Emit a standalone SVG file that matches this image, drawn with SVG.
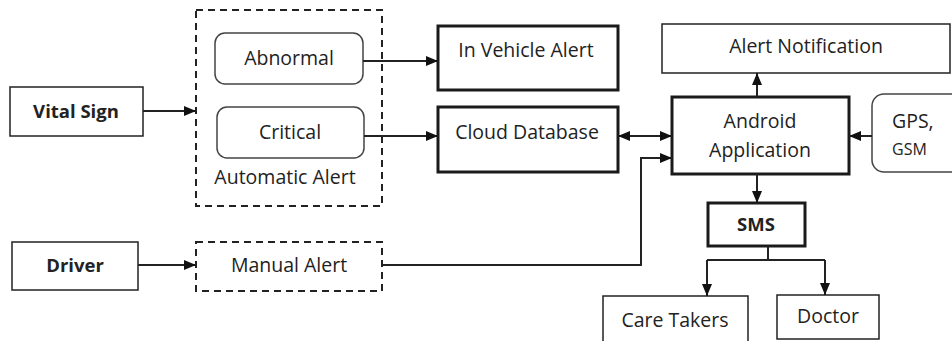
<svg xmlns="http://www.w3.org/2000/svg" width="952" height="341" viewBox="0 0 952 341">
  <defs>
    <style>
      .box { fill: #fff; stroke: #222; stroke-width: 1.5; }
      .thick { fill: #fff; stroke: #1a1a1a; stroke-width: 3; }
      .dash { fill: none; stroke: #222; stroke-width: 2; stroke-dasharray: 7 5; }
      .round { fill: #fff; stroke: #444; stroke-width: 1.5; }
      .lbl { font-family: "Open Sans", "Noto Sans", sans-serif; font-size: 19.5px; fill: #222; text-anchor: middle; }
      .bold { font-weight: bold; }
      .wire { fill: none; stroke: #222; stroke-width: 2; }
    </style>
    <marker id="ah" markerUnits="userSpaceOnUse" markerWidth="12" markerHeight="10" refX="12" refY="5" orient="auto-start-reverse">
      <path d="M0,0 L12,5 L0,10 Z" fill="#111"/>
    </marker>
  </defs>

  <rect width="952" height="341" fill="#fff"/>

  <g id="vital-sign">
    <rect class="box" x="10" y="87" width="133" height="49"/>
    <text class="lbl bold" x="76" y="118" style="font-size:18.5px">Vital Sign</text>
  </g>

  <g id="automatic-alert">
    <rect class="dash" x="196" y="10" width="186" height="196"/>
    <text class="lbl" x="285" y="184">Automatic Alert</text>
  </g>

  <g id="abnormal">
    <rect class="round" x="215" y="33" width="148" height="51" rx="10"/>
    <text class="lbl" x="289" y="65">Abnormal</text>
  </g>

  <g id="critical">
    <rect class="round" x="217" y="107" width="147" height="51" rx="10"/>
    <text class="lbl" x="290" y="139">Critical</text>
  </g>

  <g id="in-vehicle-alert">
    <rect class="thick" x="438" y="26" width="180" height="64"/>
    <text class="lbl" x="526" y="57">In Vehicle Alert</text>
  </g>

  <g id="cloud-database">
    <rect class="thick" x="438" y="107" width="180" height="65"/>
    <text class="lbl" x="527" y="139">Cloud Database</text>
  </g>

  <g id="alert-notification">
    <rect class="box" x="662" y="24" width="288" height="49"/>
    <text class="lbl" x="806" y="53">Alert Notification</text>
  </g>

  <g id="android-application">
    <rect class="thick" x="672" y="97" width="177" height="77"/>
    <text class="lbl" x="760" y="128">Android</text>
    <text class="lbl" x="760" y="157">Application</text>
  </g>

  <g id="gps-gsm">
    <rect class="round" x="872" y="94" width="100" height="78" rx="12"/>
    <text class="lbl" x="892" y="128" style="text-anchor:start">GPS,</text>
    <text class="lbl" x="892" y="155" style="text-anchor:start;font-size:16px">GSM</text>
  </g>

  <g id="sms">
    <rect class="thick" x="708" y="203" width="97" height="43"/>
    <text class="lbl bold" x="756" y="231" style="font-size:18.5px">SMS</text>
  </g>

  <g id="care-takers">
    <rect class="box" x="603" y="296" width="145" height="55"/>
    <text class="lbl" x="675" y="327">Care Takers</text>
  </g>

  <g id="doctor">
    <rect class="box" x="777" y="295" width="102" height="44"/>
    <text class="lbl" x="828" y="323">Doctor</text>
  </g>

  <g id="driver">
    <rect class="box" x="12" y="242" width="126" height="48"/>
    <text class="lbl bold" x="75" y="272" style="font-size:18.5px">Driver</text>
  </g>

  <g id="manual-alert">
    <rect class="dash" x="196" y="242" width="186" height="49"/>
    <text class="lbl" x="289" y="272">Manual Alert</text>
  </g>

  <g id="connectors">
    <path class="wire" d="M143,111 H196" marker-end="url(#ah)"/>
    <path class="wire" d="M363,61 H438" marker-end="url(#ah)"/>
    <path class="wire" d="M364,136 H438" marker-end="url(#ah)"/>
    <path class="wire" d="M618,136 H672" marker-start="url(#ah)" marker-end="url(#ah)"/>
    <path class="wire" d="M872,136 H849" marker-end="url(#ah)"/>
    <path class="wire" d="M757,97 V73" marker-end="url(#ah)"/>
    <path class="wire" d="M757,174 V203" marker-end="url(#ah)"/>
    <path class="wire" d="M138,265 H196" marker-end="url(#ah)"/>
    <path class="wire" d="M382,265 H641 V158 H672" marker-end="url(#ah)"/>
    <path class="wire" d="M768,246 V260 M707,260 H825"/>
    <path class="wire" d="M707,260 V296" marker-end="url(#ah)"/>
    <path class="wire" d="M825,260 V295" marker-end="url(#ah)"/>
  </g>
</svg>
